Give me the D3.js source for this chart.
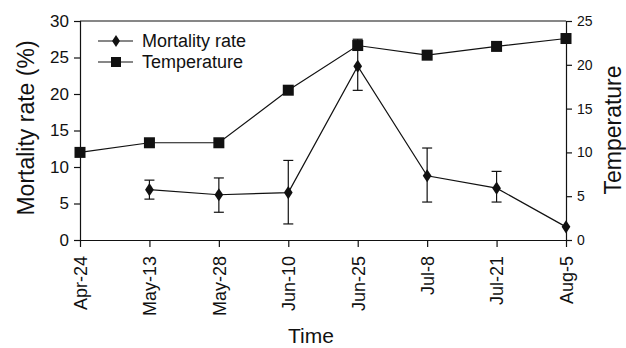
<!DOCTYPE html>
<html><head><meta charset="utf-8">
<script src="https://cdn.jsdelivr.net/npm/d3@7"></script>
<style>body{margin:0;background:#fff}svg{display:block}text{font-family:"Liberation Sans",Arial,sans-serif;fill:#111}</style>
</head><body><svg id="c" width="626" height="348"></svg>
<script>
const categories = ["Apr-24","May-13","May-28","Jun-10","Jun-25","Jul-8","Jul-21","Aug-5"];
const mortality = [null, 6.9, 6.2, 6.5, 23.8, 8.8, 7.1, 1.8];
const mortalityHigh = [null, 8.2, 8.5, 10.9, 27.5, 12.6, 9.4, null];
const mortalityLow = [null, 5.6, 3.8, 2.2, 20.5, 5.2, 5.2, null];
const temperature = [10.0, 11.1, 11.1, 17.1, 22.2, 21.1, 22.1, 23.0];
const leftTicks = [0,5,10,15,20,25,30];
const rightTicks = [0,5,10,15,20,25];

const svg = d3.select("#c");
const L = 80, R = 566, T = 21, B = 240;
const x = d3.scalePoint().domain(categories).range([L, R]);
const yL = d3.scaleLinear().domain([0,30]).range([B, T]);
const yR = d3.scaleLinear().domain([0,25]).range([B, T]);
const col = "#111";
const ff = '"Liberation Sans",Arial,sans-serif';

svg.append("line").attr("x1",L).attr("x2",R).attr("y1",T).attr("y2",T).attr("stroke",col).attr("stroke-width",1.2);

const gL = svg.append("g").attr("transform",`translate(${L},0)`)
  .call(d3.axisLeft(yL).tickValues(leftTicks).tickSize(6).tickPadding(5));
const gR = svg.append("g").attr("transform",`translate(${R},0)`)
  .call(d3.axisRight(yR).tickValues(rightTicks).tickSize(6).tickPadding(5));
const gX = svg.append("g").attr("transform",`translate(0,${B})`)
  .call(d3.axisBottom(x).tickSize(7).tickSizeOuter(0));
[gL,gR,gX].forEach(g=>{
  g.selectAll("path,line").attr("stroke",col).attr("stroke-width",1.2);
  g.selectAll("text").style("font-family",ff).attr("fill",col);
});
gL.selectAll("text").style("font-size","17px");
gR.selectAll("text").style("font-size","14px");
gX.selectAll("text").style("font-size","18px")
  .attr("transform","rotate(-90)").attr("text-anchor","end")
  .attr("x",-16).attr("y",0).attr("dy","0.35em");

const tPts = categories.map((c,i)=>[x(c), yR(temperature[i])]);
svg.append("path").attr("d",d3.line()(tPts)).attr("fill","none").attr("stroke",col).attr("stroke-width",1.2);
const mIdx = categories.map((c,i)=>i).filter(i=>mortality[i]!=null);
svg.append("path").attr("d",d3.line()(mIdx.map(i=>[x(categories[i]), yL(mortality[i])])))
  .attr("fill","none").attr("stroke",col).attr("stroke-width",1.2);
mIdx.filter(i=>mortalityHigh[i]!=null).forEach(i=>{
  const cx = x(categories[i]);
  svg.append("line").attr("x1",cx).attr("x2",cx).attr("y1",yL(mortalityHigh[i])).attr("y2",yL(mortalityLow[i])).attr("stroke",col).attr("stroke-width",1.2);
  [mortalityHigh[i], mortalityLow[i]].forEach(v=>{
    svg.append("line").attr("x1",cx-5).attr("x2",cx+5).attr("y1",yL(v)).attr("y2",yL(v)).attr("stroke",col).attr("stroke-width",1.2);
  });
});
const diamond = d3.symbol().type(d3.symbolDiamond).size(50);
svg.selectAll(".dm").data(mIdx).join("path").attr("d",diamond)
  .attr("transform",i=>`translate(${x(categories[i])},${yL(mortality[i])}) scale(1.15,1)`).attr("fill",col);
svg.selectAll(".sq").data(tPts).join("rect")
  .attr("x",d=>d[0]-5.5).attr("y",d=>d[1]-5.5).attr("width",11).attr("height",11).attr("fill",col);

const lg = svg.append("g");
[["Mortality rate","d",41],["Temperature","s",62]].forEach(([t,s,y])=>{
  lg.append("line").attr("x1",98).attr("x2",133).attr("y1",y).attr("y2",y).attr("stroke",col).attr("stroke-width",1.2);
  if(s==="d") lg.append("path").attr("d",d3.symbol().type(d3.symbolDiamond).size(40)).attr("transform",`translate(116,${y}) scale(1.15,1)`).attr("fill",col);
  else lg.append("rect").attr("x",111).attr("y",y-5).attr("width",10).attr("height",10).attr("fill",col);
  lg.append("text").attr("x",142).attr("y",y).attr("dy","0.35em").style("font-size","18px").text(t);
});

svg.append("text").attr("transform","translate(26,128) rotate(-90)").attr("text-anchor","middle")
  .attr("dy","0.35em").style("font-size","23px").text("Mortality rate (%)");
svg.append("text").attr("transform","translate(613,130) rotate(-90)").attr("text-anchor","middle")
  .attr("dy","0.35em").style("font-size","23px").text("Temperature");
svg.append("text").attr("x",311).attr("y",343).attr("text-anchor","middle")
  .style("font-size","21px").text("Time");
</script></body></html>
